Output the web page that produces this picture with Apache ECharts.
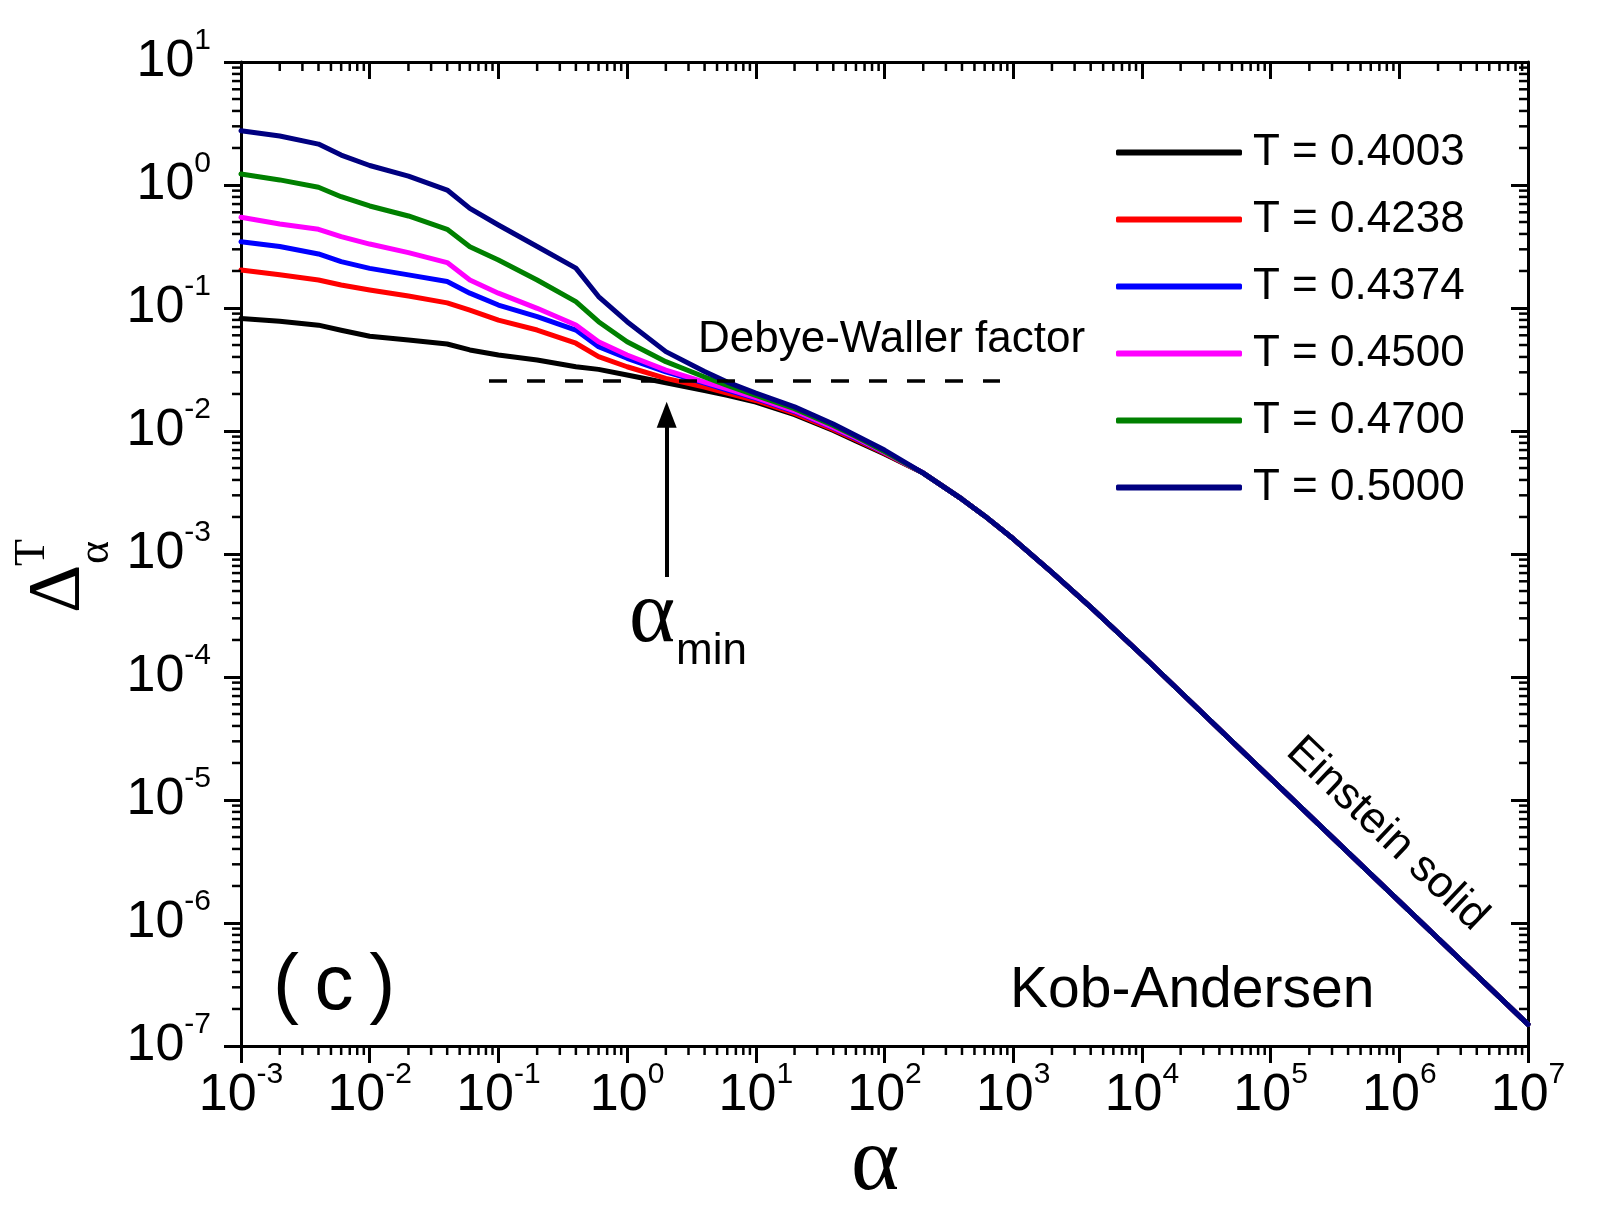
<!DOCTYPE html>
<html><head><meta charset="utf-8">
<script src="https://cdn.jsdelivr.net/npm/echarts@6/dist/echarts.min.js"></script>
<style>html,body{margin:0;padding:0;background:#fff}#c{width:1609px;height:1232px}</style>
</head><body><div id="c"></div>
<script>
// ---- data ----
const alpha = [0.001,0.002,0.004,0.006,0.01,0.02,0.04,0.06,0.1,0.2,0.4,0.6,1,2,4,6,10,20,40,60,100,
               200,400,600,1000,2000,4000,10000,1e5,1e6,1e7];
// common tail (alpha >= 200), all temperatures coincide
const tail = [0.00455,0.00279,0.00204,0.00133,0.00071,0.00037,0.000151,1.5e-5,1.5e-6,1.5e-7];
const T4003 = [0.082,0.078,0.0725,0.066,0.059,0.055,0.051,0.0456,0.0415,0.0378,0.0333,0.0317,0.0285,0.0247,0.0213,0.0195,0.0172,0.0136,0.0101,0.0083,0.0065].concat(tail);
const T4238 = [0.204,0.186,0.169,0.154,0.14,0.125,0.11,0.096,0.0798,0.0662,0.0517,0.0402,0.0333,0.0268,0.0228,0.0203,0.0177,0.0139,0.0103,0.0085,0.0066].concat(tail);
const T4374 = [0.346,0.316,0.275,0.238,0.21,0.186,0.164,0.132,0.1057,0.085,0.0662,0.0484,0.039,0.0303,0.0245,0.0215,0.0184,0.0144,0.0106,0.0087,0.0067].concat(tail);
const T4500 = [0.546,0.482,0.436,0.38,0.331,0.282,0.234,0.169,0.132,0.0994,0.0727,0.0532,0.0415,0.0313,0.025,0.022,0.0187,0.0146,0.0107,0.0088,0.0067].concat(tail);
const T4700 = [1.23,1.10,0.958,0.803,0.675,0.56,0.436,0.315,0.246,0.169,0.1126,0.0774,0.0532,0.0366,0.0275,0.0235,0.0195,0.0152,0.0111,0.0090,0.0068].concat(tail);
const T5000 = [2.76,2.50,2.15,1.75,1.44,1.18,0.91,0.645,0.473,0.316,0.211,0.124,0.0774,0.0442,0.0305,0.025,0.0203,0.0157,0.0114,0.0092,0.0070].concat(tail);

const seriesNames = ['T = 0.4003','T = 0.4238','T = 0.4374','T = 0.4500','T = 0.4700','T = 0.5000'];
const seriesValues = [T4003,T4238,T4374,T4500,T4700,T5000];
const seriesColors = ['#000000','#ff0000','#0000ff','#ff00ff','#008000','#000080'];

// Debye-Waller level (dashed) and alpha_min arrow
const dwLevel = 0.0255;
const dwAlpha = [0.0845, 790];
const arrowAlpha = 2.03;
const arrowDelta = [6.5e-4, 0.01355];

const xMin = 1e-3, xMax = 1e7, yMin = 1e-7, yMax = 10;

// ---- chart ----
const SANS = "'Liberation Sans', Arial, sans-serif";
const SERIF = "'Liberation Serif', 'Times New Roman', serif";
const chart = echarts.init(document.getElementById('c'), null, {renderer:'canvas'});

const minorX = [], minorY = [];
for (let d = -3; d < 7; d++) for (let k = 2; k <= 9; k++) minorX.push([k * Math.pow(10, d), 1]);
for (let d = -7; d < 1; d++) for (let k = 2; k <= 9; k++) minorY.push([1, k * Math.pow(10, d)]);

const labelRich = {
  b: {fontSize: 52, fontFamily: SANS, color: '#000', lineHeight: 72},
  s: {fontSize: 30, fontFamily: SANS, color: '#000', lineHeight: 30, verticalAlign: 'top'}
};
const expFmt = v => '{b|10}{s|' + Math.round(Math.log10(v)) + '}';

const axisCommon = {
  type: 'log', logBase: 10,
  axisLine: {show: true, onZero: false, lineStyle: {color: '#000', width: 3}},
  splitLine: {show: false}, minorTick: {show: false}, minorSplitLine: {show: false}
};

const lineSeries = seriesNames.map((name, i) => ({
  name, type: 'line', symbol: 'none', showSymbol: false, smooth: false,
  data: alpha.map((a, j) => [a, seriesValues[i][j]]),
  color: seriesColors[i],
  itemStyle: {color: seriesColors[i]},
  lineStyle: {color: seriesColors[i], width: 5, cap: 'round', join: 'round'},
  z: 3 + i, silent: true
}));

const option = {
  animation: false,
  backgroundColor: '#ffffff',
  grid: {left: 241, top: 62, width: 1287, height: 984, containLabel: false, outerBoundsMode: 'none'},
  xAxis: [
    Object.assign({}, axisCommon, {
      position: 'bottom', min: xMin, max: xMax, interval: 1, splitNumber: 10,
      axisTick: {show: true, inside: false, length: 17, lineStyle: {color: '#000', width: 3}},
      axisLabel: {show: true, margin: 14, fontSize: 52, fontFamily: SANS, color: '#000', formatter: expFmt, rich: labelRich, hideOverlap: false}
    }),
    Object.assign({}, axisCommon, {
      position: 'top', min: xMin, max: xMax, interval: 1, splitNumber: 10,
      axisTick: {show: true, inside: true, length: 17, lineStyle: {color: '#000', width: 3}},
      axisLabel: {show: false}
    })
  ],
  yAxis: [
    Object.assign({}, axisCommon, {
      position: 'left', min: yMin, max: yMax, interval: 1, splitNumber: 8,
      axisTick: {show: true, inside: false, length: 17, lineStyle: {color: '#000', width: 3}},
      axisLabel: {show: true, margin: 30, fontSize: 52, fontFamily: SANS, color: '#000', formatter: expFmt, rich: labelRich, hideOverlap: false}
    }),
    Object.assign({}, axisCommon, {
      position: 'right', min: yMin, max: yMax, interval: 1, splitNumber: 8,
      axisTick: {show: true, inside: true, length: 17, lineStyle: {color: '#000', width: 3}},
      axisLabel: {show: false}
    })
  ],
  legend: {
    data: seriesNames, orient: 'vertical', left: 1116, top: 127.5, padding: 0,
    itemWidth: 126, itemHeight: 6, itemGap: 17, icon: 'roundRect', selectedMode: false,
    textStyle: {fontSize: 44, fontFamily: SANS, color: '#000', lineHeight: 50, padding: [0, 0, 0, 6]}
  },
  series: lineSeries.concat([
    {
      name: 'Debye-Waller', type: 'line', symbol: 'none', silent: true, z: 20,
      data: dwAlpha.map(a => [a, dwLevel]),
      lineStyle: {color: '#000', width: 3.5, type: [18, 20]}
    },
    {
      name: 'arrow', type: 'line', data: [], silent: true, z: 20,
      markLine: {
        silent: true, symbol: ['none', 'triangle'], symbolSize: [20, 26],
        label: {show: false}, emphasis: {disabled: true},
        lineStyle: {color: '#000', width: 4, type: 'solid'},
        data: [[{coord: [arrowAlpha, arrowDelta[0]]}, {coord: [arrowAlpha, arrowDelta[1]]}]]
      }
    },
    {
      name: 'minorX', type: 'custom', silent: true, z: 30, clip: false,
      data: minorX, encode: {x: 0, y: 1},
      renderItem: (params, api) => {
        const v = api.value(0);
        const pb = api.coord([v, yMin]), pt = api.coord([v, yMax]);
        return {type: 'group', children: [
          {type: 'line', shape: {x1: pb[0], y1: pb[1], x2: pb[0], y2: pb[1] + 9}, style: {stroke: '#000', lineWidth: 2.5}},
          {type: 'line', shape: {x1: pt[0], y1: pt[1], x2: pt[0], y2: pt[1] + 9}, style: {stroke: '#000', lineWidth: 2.5}}
        ]};
      }
    },
    {
      name: 'minorY', type: 'custom', silent: true, z: 30, clip: false,
      data: minorY, encode: {x: 0, y: 1},
      renderItem: (params, api) => {
        const v = api.value(1);
        const pl = api.coord([xMin, v]), pr = api.coord([xMax, v]);
        return {type: 'group', children: [
          {type: 'line', shape: {x1: pl[0] - 9, y1: pl[1], x2: pl[0], y2: pl[1]}, style: {stroke: '#000', lineWidth: 2.5}},
          {type: 'line', shape: {x1: pr[0] - 9, y1: pr[1], x2: pr[0], y2: pr[1]}, style: {stroke: '#000', lineWidth: 2.5}}
        ]};
      }
    }
  ]),
  graphic: [
    {type: 'text', x: 698, y: 340, silent: true, style: {text: 'Debye-Waller factor', fontSize: 44, fontFamily: SANS, fill: '#000', align: 'left', verticalAlign: 'middle'}},
    {type: 'text', x: 1010, y: 991, silent: true, style: {text: 'Kob-Andersen', fontSize: 57, fontFamily: SANS, fill: '#000', align: 'left', verticalAlign: 'middle'}},
    {type: 'text', x: 273, y: 987, silent: true, style: {text: '(\u2009c\u2009)', fontSize: 78, fontFamily: SANS, fill: '#000', align: 'left', verticalAlign: 'middle'}},
    {type: 'text', x: 1387, y: 834, rotation: -0.761, silent: true, style: {text: 'Einstein solid', fontSize: 44, fontFamily: SANS, fill: '#000', align: 'center', verticalAlign: 'middle'}},
    {type: 'text', x: 629, y: 618, silent: true, style: {text: 'α', fontSize: 88, fontFamily: SERIF, fill: '#000', align: 'left', verticalAlign: 'middle'}},
    {type: 'text', x: 676, y: 652, silent: true, style: {text: 'min', fontSize: 44, fontFamily: SANS, fill: '#000', align: 'left', verticalAlign: 'middle'}},
    {type: 'text', x: 875, y: 1165, silent: true, style: {text: 'α', fontSize: 92, fontFamily: SERIF, fill: '#000', align: 'center', verticalAlign: 'middle'}},
    {type: 'text', x: 59, y: 613, rotation: Math.PI / 2, silent: true, style: {text: 'Δ', fontSize: 75, fontFamily: SERIF, fill: '#000', align: 'left', verticalAlign: 'middle'}},
    {type: 'text', x: 96, y: 564, rotation: Math.PI / 2, silent: true, style: {text: 'α', fontSize: 44, fontFamily: SERIF, fill: '#000', align: 'left', verticalAlign: 'middle'}},
    {type: 'text', x: 32, y: 566, rotation: Math.PI / 2, silent: true, style: {text: 'T', fontSize: 44, fontFamily: SERIF, fill: '#000', align: 'left', verticalAlign: 'middle'}}
  ]
};
chart.setOption(option);
</script></body></html>
